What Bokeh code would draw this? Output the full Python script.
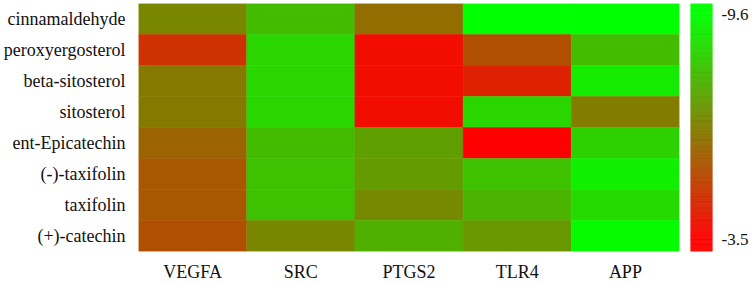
import numpy as np
import pandas as pd
from bokeh.plotting import figure
from bokeh.models import LinearColorMapper, FixedTicker, Range1d, PrintfTickFormatter
from bokeh.transform import transform
from bokeh.layouts import row
from bokeh.embed import file_html
from bokeh.resources import INLINE

compounds = ["cinnamaldehyde", "peroxyergosterol", "beta-sitosterol", "sitosterol",
             "ent-Epicatechin", "(-)-taxifolin", "taxifolin", "(+)-catechin"]
genes = ["VEGFA", "SRC", "PTGS2", "TLR4", "APP"]

VEGFA = [-6.7, -4.7, -6.4, -6.4, -5.9, -5.6, -5.6, -5.4]
SRC = [-8.0, -8.6, -8.6, -8.6, -8.0, -8.1, -8.1, -6.7]
PTGS2 = [-6.1, -3.8, -3.8, -3.8, -7.3, -7.2, -6.8, -7.7]
TLR4 = [-9.6, -5.4, -4.3, -8.6, -3.5, -8.1, -7.8, -7.1]
APP = [-9.6, -8.0, -9.1, -6.5, -8.5, -9.2, -8.7, -9.5]

vmin, vmax = -9.6, -3.5
cbar_ticks = [-9.6, -3.5]

series = {"VEGFA": VEGFA, "SRC": SRC, "PTGS2": PTGS2, "TLR4": TLR4, "APP": APP}
rows = []
for g in genes:
    for c, v in zip(compounds, series[g]):
        rows.append({"gene": g, "compound": c, "value": v})
df = pd.DataFrame(rows)

palette = ["#%02x%02x00" % (i, 255 - i) for i in range(256)]
mapper = LinearColorMapper(palette=palette, low=vmin, high=vmax)

FONT = "Liberation Serif"
TXT = "#111111"

p = figure(width=680, height=284, x_range=genes, y_range=list(reversed(compounds)),
           output_backend="svg", toolbar_location=None,
           min_border_left=137, min_border_right=1, min_border_top=3, min_border_bottom=32)
p.rect(x="gene", y="compound", width=1, height=1, source=df,
       fill_color=transform("value", mapper), line_color=transform("value", mapper),
       line_width=0.5)
p.outline_line_color = None
p.grid.grid_line_color = None
for ax in (p.xaxis[0], p.yaxis[0]):
    ax.axis_line_color = None
    ax.major_tick_line_color = None
    ax.minor_tick_line_color = None
    ax.major_tick_in = 0
    ax.major_tick_out = 0
    ax.major_label_text_font = FONT
    ax.major_label_text_font_size = "18px"
    ax.major_label_text_color = TXT
p.xaxis.major_label_standoff = 10
p.yaxis.major_label_standoff = 13

# colour bar as its own small plot
cb = figure(width=72, height=284, x_range=Range1d(0, 1), y_range=Range1d(-3.18, -9.9),
            output_backend="svg", toolbar_location=None, y_axis_location="right",
            min_border_left=10, min_border_right=40, min_border_top=2, min_border_bottom=32)
edges = np.linspace(-9.9, -3.18, 301)
cdf = pd.DataFrame({"mid": (edges[:-1] + edges[1:]) / 2, "b": edges[:-1], "t": edges[1:]})
cb.quad(left=0, right=1, bottom="b", top="t", source=cdf,
        fill_color=transform("mid", mapper), line_color=transform("mid", mapper), line_width=0.5)
cb.xaxis.visible = False
cb.outline_line_color = None
cb.grid.grid_line_color = None
ya = cb.yaxis[0]
ya.ticker = FixedTicker(ticks=cbar_ticks)
ya.formatter = PrintfTickFormatter(format="%.1f")
ya.axis_line_color = None
ya.major_tick_line_color = None
ya.minor_tick_line_color = None
ya.major_tick_in = 0
ya.major_tick_out = 0
ya.major_label_standoff = 9
ya.major_label_text_font = FONT
ya.major_label_text_font_size = "17px"
ya.major_label_text_color = TXT

layout = row(p, cb)
open("out.html", "w").write(file_html(layout, INLINE))
